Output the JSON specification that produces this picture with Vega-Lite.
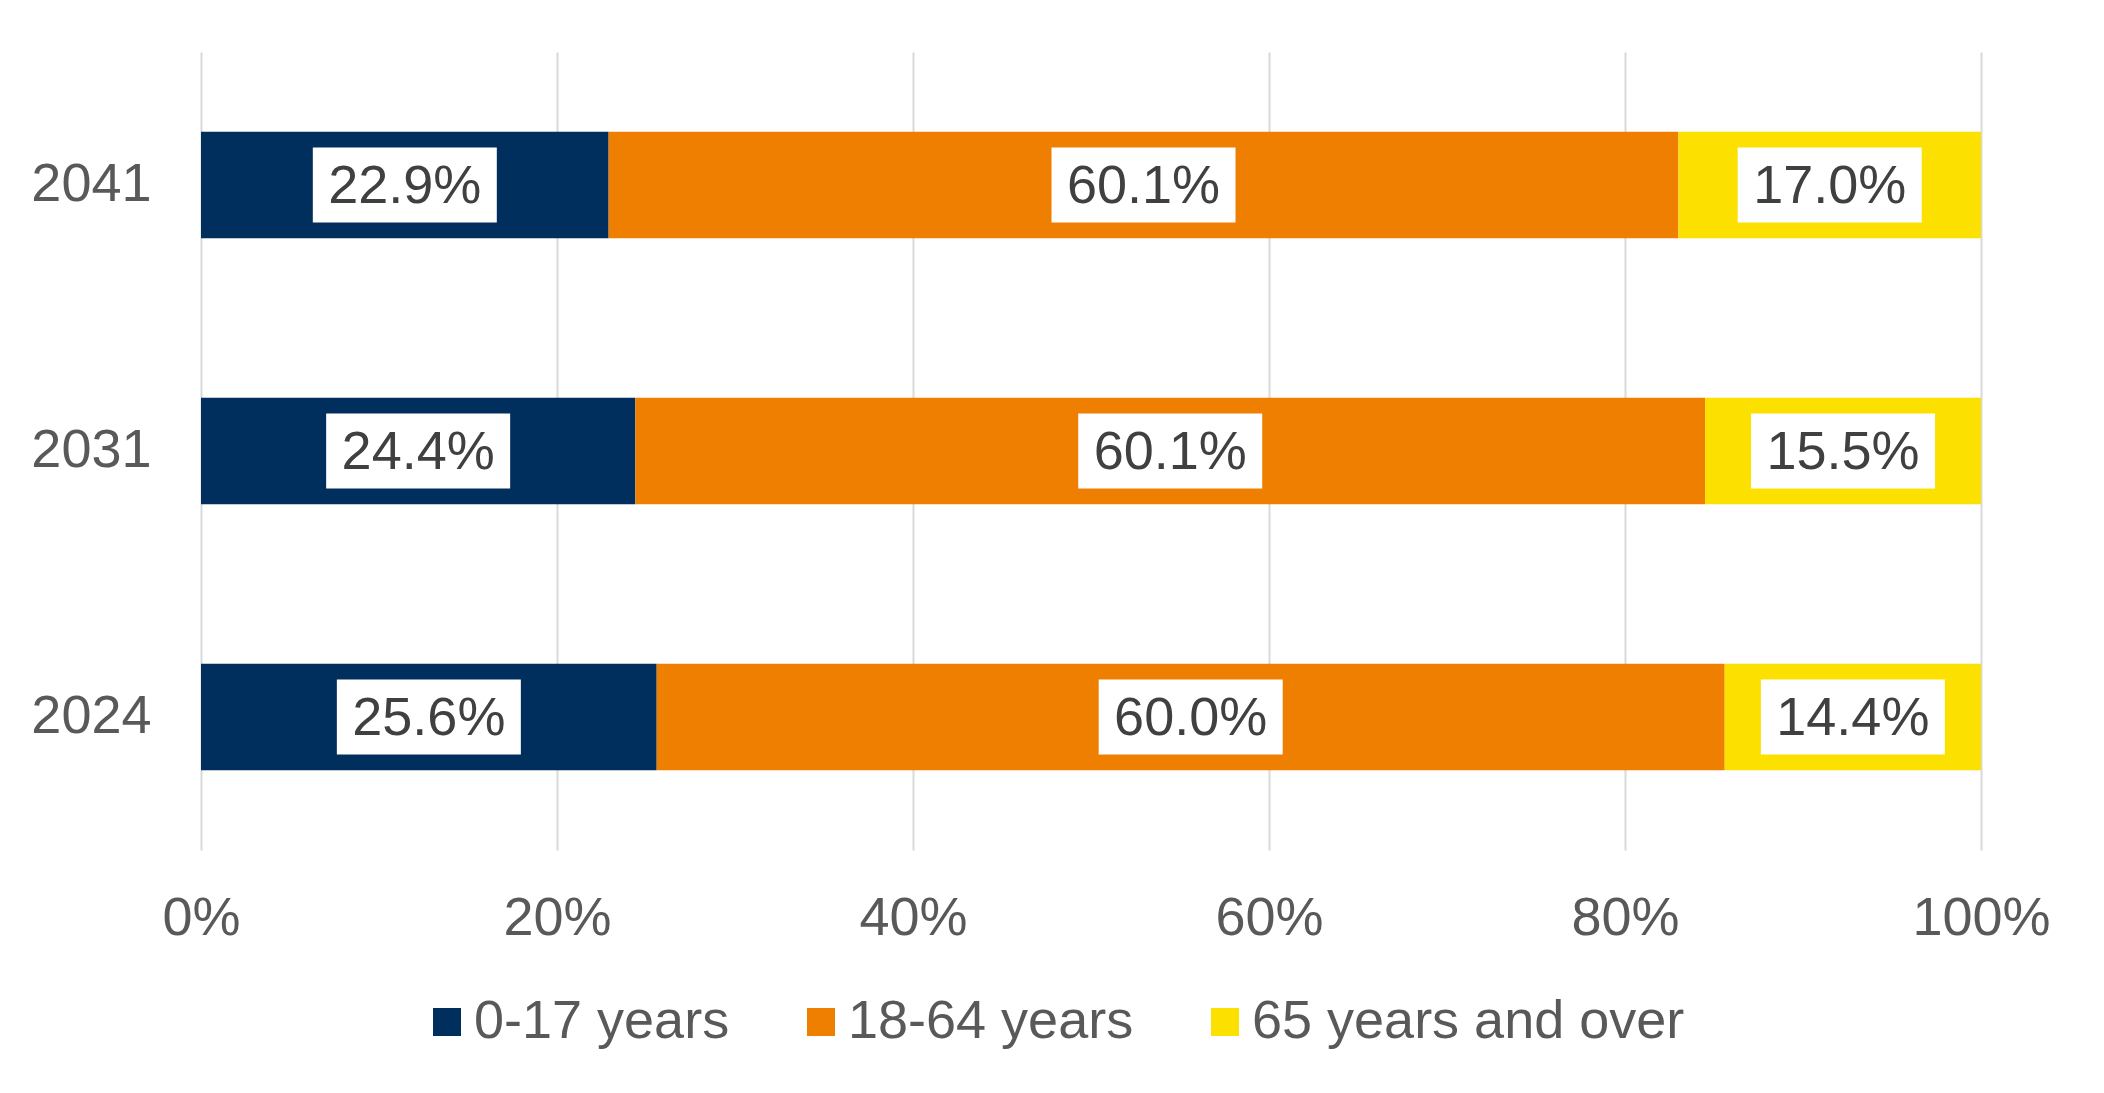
{
  "$schema": "https://vega.github.io/schema/vega-lite/v6.json",
  "width": 1780,
  "height": 798,
  "autosize": {"type": "none"},
  "padding": {"left": 201, "top": 52, "right": 123, "bottom": 243},
  "background": "white",
  "data": {
    "values": [
      {"year": "2041", "group": "0-17 years", "ord": 1, "value": 0.229},
      {"year": "2041", "group": "18-64 years", "ord": 2, "value": 0.601},
      {"year": "2041", "group": "65 years and over", "ord": 3, "value": 0.170},
      {"year": "2031", "group": "0-17 years", "ord": 1, "value": 0.244},
      {"year": "2031", "group": "18-64 years", "ord": 2, "value": 0.601},
      {"year": "2031", "group": "65 years and over", "ord": 3, "value": 0.155},
      {"year": "2024", "group": "0-17 years", "ord": 1, "value": 0.256},
      {"year": "2024", "group": "18-64 years", "ord": 2, "value": 0.600},
      {"year": "2024", "group": "65 years and over", "ord": 3, "value": 0.144}
    ]
  },
  "encoding": {
    "y": {
      "field": "year",
      "type": "nominal",
      "sort": "descending",
      "title": null,
      "scale": {"paddingInner": 0.6, "paddingOuter": 0.3},
      "axis": {
        "domain": false,
        "ticks": false,
        "labelFont": "Liberation Sans",
        "labelFontSize": 54,
        "labelColor": "#595959",
        "labelPadding": 50
      }
    }
  },
  "layer": [
    {
      "mark": {"type": "bar", "strokeWidth": 0},
      "encoding": {
        "x": {
          "field": "value",
          "type": "quantitative",
          "stack": "zero",
          "title": null,
          "scale": {"domain": [0, 1], "nice": false},
          "axis": {
            "values": [0, 0.2, 0.4, 0.6, 0.8, 1],
            "format": ".0%",
            "domain": false,
            "ticks": false,
            "grid": true,
            "gridColor": "#d9d9d9",
            "gridWidth": 2,
            "labelFont": "Liberation Sans",
            "labelFontSize": 54,
            "labelColor": "#595959",
            "labelPadding": 41,
            "labelFlush": false
          }
        },
        "color": {
          "field": "group",
          "type": "nominal",
          "scale": {
            "domain": ["0-17 years", "18-64 years", "65 years and over"],
            "range": ["#002E5D", "#EE7F00", "#FBE000"]
          },
          "legend": {
            "title": null,
            "orient": "none",
            "direction": "horizontal",
            "legendX": 219,
            "legendY": 943,
            "symbolType": "square",
            "symbolSize": 784,
            "symbolStrokeWidth": 0,
            "labelFont": "Liberation Sans",
            "labelFontSize": 54,
            "labelColor": "#595959",
            "labelOffset": 0,
            "columnPadding": 64,
            "padding": 0,
            "labelLimit": 1000
          }
        },
        "order": {"field": "ord"}
      }
    },
    {
      "mark": {
        "type": "point",
        "shape": "M-1,-0.408L1,-0.408L1,0.408L-1,0.408Z",
        "filled": true,
        "fill": "white",
        "opacity": 1,
        "strokeWidth": 0,
        "size": 33856
      },
      "encoding": {
        "x": {"field": "value", "type": "quantitative", "stack": "zero", "bandPosition": 0.5},
        "detail": {"field": "group"},
        "order": {"field": "ord"}
      }
    },
    {
      "mark": {
        "type": "text",
        "font": "Liberation Sans",
        "fontSize": 54,
        "color": "#404040",
        "baseline": "middle",
        "align": "center",
        "dy": 2
      },
      "encoding": {
        "x": {"field": "value", "type": "quantitative", "stack": "zero", "bandPosition": 0.5},
        "detail": {"field": "group"},
        "order": {"field": "ord"},
        "text": {"field": "value", "type": "quantitative", "format": ".1%"}
      }
    }
  ],
  "config": {
    "view": {"stroke": null}
  }
}
